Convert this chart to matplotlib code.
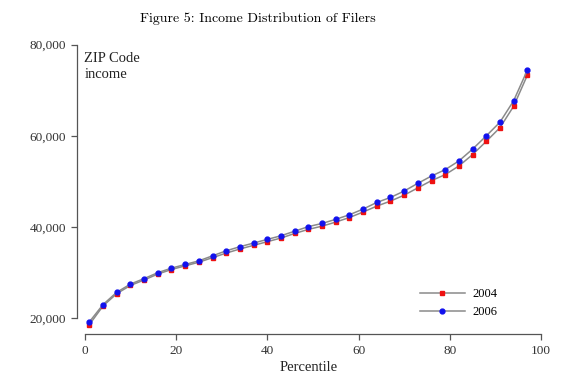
import matplotlib
matplotlib.use("Agg")
import matplotlib.pyplot as plt

percentile = [1, 4, 7, 10, 13, 16, 19, 22, 25, 28, 31, 34, 37, 40, 43, 46, 49,
              52, 55, 58, 61, 64, 67, 70, 73, 76, 79, 82, 85, 88, 91, 94, 97]
income_2004 = [18600, 22700, 25400, 27200, 28400, 29700, 30700, 31500, 32300, 33300,
               34300, 35200, 36000, 36800, 37600, 38600, 39500, 40200, 41100, 42100,
               43300, 44600, 45700, 47000, 48600, 50200, 51500, 53400, 55900, 58800,
               61800, 66500, 73300]
income_2006 = [19200, 23000, 25700, 27500, 28700, 30000, 31000, 31800, 32600, 33700,
               34800, 35700, 36500, 37300, 38100, 39100, 40100, 40800, 41700, 42700,
               43950, 45400, 46500, 47900, 49600, 51200, 52600, 54500, 57100, 60000,
               63000, 67700, 74400]
xticks = [0, 20, 40, 60, 80, 100]
yticks = [20000, 40000, 60000, 80000]
ytick_labels = ["20,000", "40,000", "60,000", "80,000"]

W, H = 588, 379
fig = plt.figure(figsize=(W / 100, H / 100), dpi=100)
left, right, top, bottom = 77, 541, 44.7, 334
ax = fig.add_axes([left / W, 1 - bottom / H, (right - left) / W, (bottom - top) / H])

serif = ["Liberation Serif", "DejaVu Serif"]
line_color = "#8a8a8a"
ax.plot(percentile, income_2004, color=line_color, lw=1.1, marker="s", ms=3.2,
        mfc="#ee1111", mec="#ee1111", label="2004", zorder=3)
ax.plot(percentile, income_2006, color=line_color, lw=1.1, marker="o", ms=3.5,
        mfc="#1111ee", mec="#1111ee", label="2006", zorder=4)

ax.set_xlim(-1.7, 100)
ax.set_ylim(16557, 80000)
for s in ["top", "right"]:
    ax.spines[s].set_visible(False)
ax.spines["left"].set_bounds(20000, 80000)
ax.spines["bottom"].set_bounds(0, 100)
for s in ["left", "bottom"]:
    ax.spines[s].set_color("#555555")
    ax.spines[s].set_linewidth(0.9)

ax.set_xticks(xticks)
ax.set_xticklabels([str(v) for v in xticks], family=serif, fontsize=9.5, color="#333333")
ax.set_yticks(yticks)
ax.set_yticklabels(ytick_labels, family=serif, fontsize=9.5, color="#333333")
ax.tick_params(axis="both", direction="out", length=4, width=0.9, color="#555555", pad=4)

ax.set_xlabel("Percentile", family=serif, fontsize=10.5, color="#222222", labelpad=3)
ax.text(0.016, 0.975, "ZIP Code\nincome", transform=ax.transAxes, family=serif,
        fontsize=10.5, color="#222222", va="top", ha="left", linespacing=1.3)

leg = ax.legend(loc="lower right", bbox_to_anchor=(0.93, 0.016), frameon=False,
                prop={"family": serif, "size": 9}, handlelength=3.6, handletextpad=0.6,
                labelspacing=0.45)

fig.text(258 / W, 1 - 19 / H, "Figure 5: Income Distribution of Filers",
         family=["cmr10", "DejaVu Serif"], fontsize=10, ha="center", va="center")

fig.savefig("out.png", dpi=100, facecolor="white")
